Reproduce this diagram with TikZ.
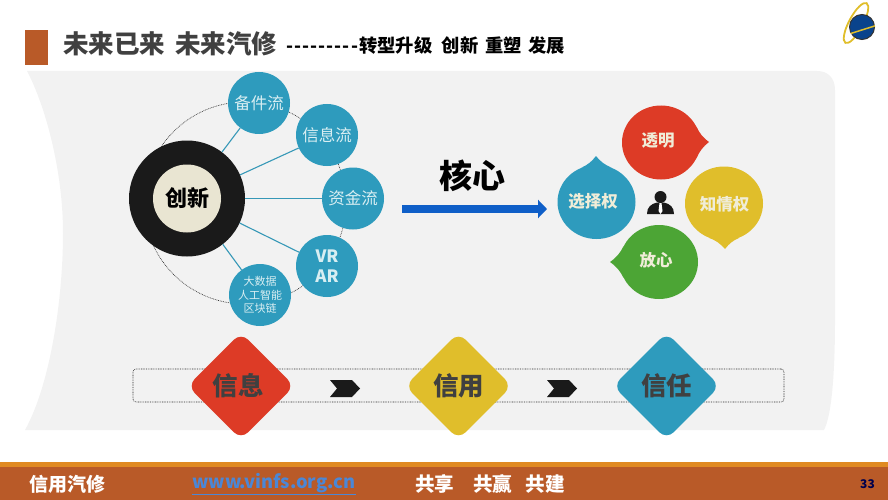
\documentclass[tikz,border=0pt]{standalone}
\usepackage{fontspec}
\setmainfont{Noto Sans CJK SC}
\usetikzlibrary{arrows.meta,shapes.geometric}
\definecolor{rustbrown}{HTML}{B95A28}
\definecolor{stripeorange}{HTML}{E08A22}
\definecolor{panelgray}{HTML}{F2F2F2}
\definecolor{teal}{HTML}{2E9BBD}
\definecolor{redorange}{HTML}{DD3B26}
\definecolor{mustard}{HTML}{E0BE2B}
\definecolor{leaf}{HTML}{4CA535}
\definecolor{arrowblue}{HTML}{0F5FC8}
\definecolor{palecream}{HTML}{F0EDD8}
\definecolor{hubcream}{HTML}{E9E5D2}
\definecolor{paleteal}{HTML}{D8EEF2}
\definecolor{ringblack}{HTML}{1A1A1A}
\definecolor{titlegray}{HTML}{404040}
\tikzset{
    flowball/.style={circle, fill=teal, inner sep=0pt, minimum size=62pt, text=paleteal, align=center, font=\fontsize{16.5pt}{20pt}\selectfont},
    spoke/.style={draw=teal!90!gray, line width=1.1pt},
    bubble/.style={ellipse, inner sep=0pt, minimum width=78pt, minimum height=74pt},
    bubbletext/.style={inner sep=0pt, text=palecream, font=\fontsize{16.5pt}{20pt}\selectfont\bfseries},
    gem/.style={diamond, aspect=1, inner sep=0pt, minimum size=107pt, rounded corners=10pt, text=titlegray, font=\fontsize{25.5pt}{30pt}\selectfont\bfseries},
    dotline/.style={draw=black!85, line width=0.6pt, dash pattern=on 0.8pt off 0.9pt},
    bartext/.style={anchor=west, inner sep=0pt, text=white, font=\fontsize{19pt}{23pt}\selectfont\bfseries}
}
\begin{document}
\begin{tikzpicture}[x=1pt,y=-1pt]
        \useasboundingbox (0,0) rectangle (888,500);
        % panel behind everything
        \fill[panelgray] (27,71) -- (817,71) .. controls (828,71) and (835,78) .. (835,90) -- (835,320) .. controls (835,370) and (832,415) .. (824,430) -- (25,430) .. controls (50,385) and (63,300) .. (63,233) .. controls (63,170) and (45,105) .. (27,71) -- cycle;
        % title
        \fill[rustbrown] (25,30) rectangle (48,65);
        \node[anchor=west, inner sep=0pt, text=titlegray, font=\fontsize{25.5pt}{30pt}\selectfont\bfseries] (maintitle) at (63,44) {未来已来\hspace{0.4em}未来汽修};
        \node[anchor=west, inner sep=0pt, font=\fontsize{18.3pt}{22pt}\selectfont\bfseries] (subtitle) at (286,46) {-\kern1.1pt-\kern1.1pt-\kern1.1pt-\kern1.1pt-\kern1.1pt-\kern1.1pt-\kern1.1pt-\kern1.1pt-\kern1.1pt转型升级\hspace{9.5pt}创新\hspace{7pt}重塑\hspace{6pt}发展};
        % logo
        \node[ellipse, draw=mustard, line width=1.8pt, inner sep=0pt, minimum width=45pt, minimum height=14pt, rotate=62] (logoring) at (856,23) {};
        \node[circle, fill=arrowblue!70!black, draw=black!80, line width=1pt, inner sep=0pt, minimum size=25pt] (logoball) at (862,27) {};
        \draw[mustard, line width=1.5pt] (logoball.210) -- (logoball.5);
        % left part
        \node[circle, dotline, inner sep=0pt, minimum size=202pt] (orbit) at (245,203) {};
        \node[circle, fill=ringblack, inner sep=0pt, minimum size=116pt] (ring) at (187,198.5) {};
        \node[circle, fill=hubcream, inner sep=0pt, minimum size=68pt, font=\fontsize{22pt}{26pt}\selectfont\bfseries] (hub) at (187,198.5) {创新};
        \foreach \name/\x/\y/\labeltext in {parts/259/103/备件流, info/327/135/信息流, funds/353/198.5/资金流} {
            \node[flowball] (\name) at (\x,\y) {\labeltext};
        }
        \node[flowball, font=\fontsize{17pt}{20pt}\selectfont\bfseries] (vrar) at (327,266) {VR\\AR};
        \node[flowball, font=\fontsize{11pt}{13.5pt}\selectfont] (bigdata) at (260,295) {大数据\\人工智能\\区块链};
        \foreach \name/\a in {parts/53, info/24, funds/0, vrar/-25, bigdata/-52} {
            \draw[spoke] (ring.\a) -- (\name);
        }
        % middle
        \node[font=\fontsize{33pt}{38pt}\selectfont\bfseries] (corelabel) at (472,176) {核心};
        \coordinate (arrowstart) at (402,209);
        \coordinate (arrowend) at (547,209);
        \draw[-{Triangle[length=9pt,width=18pt]}, arrowblue, line width=8.5pt] (arrowstart) -- (arrowend);
        % right part
        \foreach \name/\x/\y/\col/\labeltext/\lx/\ly/\tipx/\tipy/\from/\to in {
            open/661/142.5/redorange/透明/658/140/709/142/24/-24,
            choice/596.5/202/teal/选择权/593/201/596/156/114/66,
            know/724/203.5/mustard/知情权/724.5/204/725/249/-66/-114,
            trust/659/262/leaf/放心/656/260/610/262/204/156} {
            \coordinate (\name tip) at (\tipx,\tipy);
            \node[bubble, fill=\col] (\name) at (\x,\y) {};
            \fill[\col] (\name.\from) to[bend right=14] (\name tip) to[bend right=14] (\name.\to) -- cycle;
            \node[bubbletext] (\name text) at (\lx,\ly) {\labeltext};
        }
        \node[circle, fill=ringblack, inner sep=0pt, minimum size=12pt] (head) at (660.5,197) {};
        \fill[ringblack] (647,214) .. controls (647,207) and (651,204) .. (657,202.5) -- (664,202.5) .. controls (670,204) and (674,207) .. (674,214) -- cycle;
        \fill[white] (659.5,203) -- (661.5,203) -- (662.5,211) -- (660.5,214) -- (658.5,211) -- cycle;
        % bottom row
        \node[dotline, rounded corners=3pt, inner sep=0pt, minimum width=651pt, minimum height=33pt] (band) at (458.5,385.5) {};
        \foreach \name/\x/\col/\labeltext in {xinxi/241/redorange/{\hspace{-6pt}信息}, xinyong/458.5/mustard/信用, xinren/666.5/teal/信任} {
            \node[gem, fill=\col] (\name) at (\x,386) {\raisebox{2pt}{\labeltext}};
        }
        \foreach \x in {330,547} {
            \fill[ringblack] (\x,380) -- ++(22,0) -- ++(8,8.5) -- ++(-8,8.5) -- ++(-22,0) -- ++(7,-8.5) -- cycle;
        }
        % footer
        \fill[rustbrown] (0,466) rectangle (888,500);
        \fill[stripeorange] (0,462) rectangle (888,467);
        \node[bartext] (brand) at (29,484) {信用汽修};
        \node[bartext, text=arrowblue!75!white, font=\fontsize{18.3pt}{23pt}\selectfont\bfseries] (website) at (192,484) {\underline{www.vinfs.org.cn}};
        \node[bartext, font=\fontsize{19.6pt}{23pt}\selectfont\bfseries] (motto) at (415,484) {共享\hspace{0.95em}共赢\hspace{0.7em}共建};
        \node[anchor=east, inner sep=0pt, text=black!70!blue, font=\fontsize{12pt}{14pt}\selectfont\bfseries] (pageno) at (875,484) {33};
\end{tikzpicture}
\end{document}
